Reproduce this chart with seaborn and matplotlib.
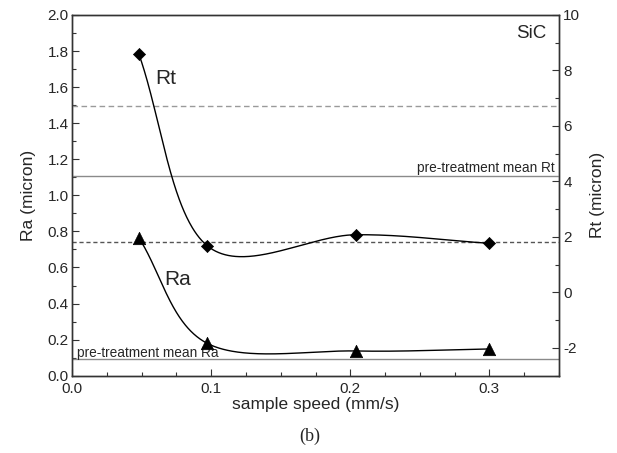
import numpy as np
import pandas as pd
import matplotlib
matplotlib.use("Agg")
import matplotlib.pyplot as plt
from matplotlib.ticker import MultipleLocator, FormatStrFormatter
import seaborn as sns

# ---- data ----
speed = [0.048, 0.097, 0.204, 0.300]          # sample speed (mm/s)
ra_values = [0.765, 0.180, 0.137, 0.148]      # Ra (micron), left axis
rt_values = [8.60, 1.69, 2.08, 1.77]          # Rt (micron), right axis
ra_pre_mean = 0.091                           # pre-treatment mean Ra
ra_ref_dashed = 0.743                         # dashed reference (left axis)
rt_pre_mean = 4.18                            # pre-treatment mean Rt
rt_ref_dashed = 6.72                          # dashed reference (right axis)
x_ticks = [0.0, 0.1, 0.2, 0.3]
ra_ticks = [0.0, 0.2, 0.4, 0.6, 0.8, 1.0, 1.2, 1.4, 1.6, 1.8, 2.0]
rt_ticks = [-2, 0, 2, 4, 6, 8, 10]


def screen_spline(axis, x, y, n=120):
    """Parametric Catmull-Rom curve through the points, computed in the
    axes' display space (like a plotting program's 'spline' connection),
    returned in data coordinates for drawing."""
    P = axis.transData.transform(np.column_stack([x, y]))
    m = len(P)
    T = np.zeros_like(P)
    T[0] = P[1] - P[0]
    T[-1] = P[-1] - P[-2]
    for i in range(1, m - 1):
        T[i] = (P[i + 1] - P[i - 1]) / 2.0
    segs = []
    t = np.linspace(0, 1, n)[:, None]
    h00 = 2 * t ** 3 - 3 * t ** 2 + 1
    h10 = t ** 3 - 2 * t ** 2 + t
    h01 = -2 * t ** 3 + 3 * t ** 2
    h11 = t ** 3 - t ** 2
    for i in range(m - 1):
        seg = h00 * P[i] + h10 * T[i] + h01 * P[i + 1] + h11 * T[i + 1]
        segs.append(seg if i == 0 else seg[1:])
    D = axis.transData.inverted().transform(np.vstack(segs))
    return D[:, 0], D[:, 1]


sns.set_theme(style="ticks")
plt.rcParams["font.family"] = ["Liberation Sans", "DejaVu Sans"]

fig = plt.figure(figsize=(6.17, 4.53), dpi=100)
ax = fig.add_axes([0.1167, 0.1707, 0.7893, 0.7962])
ax2 = ax.twinx()

# axes limits and ticks (set first so the curve can use the scales)
ax.set_xlim(0, 0.35)
ax.set_ylim(0, 2.0)
ax2.set_ylim(-3, 10)
ax.set_xticks(x_ticks)
ax.set_yticks(ra_ticks)
ax2.set_yticks(rt_ticks)
ax.xaxis.set_minor_locator(MultipleLocator(0.025))
ax.yaxis.set_minor_locator(MultipleLocator(0.1))
ax2.yaxis.set_minor_locator(MultipleLocator(1))
ax.xaxis.set_major_formatter(FormatStrFormatter("%.1f"))
ax.yaxis.set_major_formatter(FormatStrFormatter("%.1f"))
ax2.yaxis.set_major_formatter(FormatStrFormatter("%d"))

pts = pd.DataFrame({"speed": speed, "Ra": ra_values, "Rt": rt_values})
rx, ry = screen_spline(ax, speed, ra_values)
tx, ty = screen_spline(ax2, speed, rt_values)
ra_curve = pd.DataFrame({"speed": rx, "Ra": ry})
rt_curve = pd.DataFrame({"speed": tx, "Rt": ty})

# reference lines
ax.axhline(ra_pre_mean, color="#8a8a8a", lw=1.0, zorder=1)
ax.axhline(ra_ref_dashed, color="#555555", lw=1.0, ls=(0, (3, 2)), zorder=1)
ax2.axhline(rt_pre_mean, color="#8a8a8a", lw=1.0, zorder=1)
ax2.axhline(rt_ref_dashed, color="#9a9a9a", lw=1.0, ls=(0, (4, 2.5)), zorder=1)

# Ra curve + markers (left axis)
sns.lineplot(data=ra_curve, x="speed", y="Ra", ax=ax, color="black", lw=1.0,
             sort=False, estimator=None, zorder=3)
sns.scatterplot(data=pts, x="speed", y="Ra", ax=ax, marker="^", s=80,
                color="black", edgecolor="black", linewidth=0.5, zorder=4)

# Rt curve + markers (right axis)
sns.lineplot(data=rt_curve, x="speed", y="Rt", ax=ax2, color="black", lw=1.0,
             sort=False, estimator=None, zorder=3)
sns.scatterplot(data=pts, x="speed", y="Rt", ax=ax2, marker="D", s=38,
                color="black", edgecolor="black", linewidth=0.5, zorder=4)

ax.set_xlim(0, 0.35)
ax.set_ylim(0, 2.0)
ax2.set_ylim(-3, 10)

for a in (ax, ax2):
    a.tick_params(which="major", direction="in", length=5, width=0.8,
                  labelsize=11, pad=2.5, color="#333333")
    a.tick_params(which="minor", direction="in", length=3, width=0.8,
                  color="#333333")
    for sp in a.spines.values():
        sp.set_visible(True)
        sp.set_linewidth(1.0)
        sp.set_color("#333333")
ax.tick_params(axis="x", which="major", pad=4.5)
ax2.tick_params(axis="y", which="both", left=False, right=True)
ax2.tick_params(axis="y", which="major", pad=3)

ax.set_xlabel("sample speed (mm/s)", fontsize=12.5, labelpad=1)
ax.set_ylabel("Ra (micron)", fontsize=12.5, labelpad=8)
ax2.set_ylabel("Rt (micron)", fontsize=12.5, labelpad=7)

# annotations
ax.text(0.0673, 1.65, "Rt", fontsize=15, va="center", ha="center")
ax.text(0.076, 0.536, "Ra", fontsize=15, va="center", ha="center")
ax.text(0.341, 1.90, "SiC", fontsize=13.5, va="center", ha="right")
ax2.text(0.3467, rt_pre_mean + 0.17, "pre-treatment mean Rt", fontsize=9.8,
         va="baseline", ha="right")
ax.text(0.0036, ra_pre_mean + 0.015, "pre-treatment mean Ra", fontsize=9.8,
        va="baseline", ha="left")

fig.text(0.5025, 0.036, "(b)", fontsize=13, ha="center", va="center",
         family=["Liberation Serif", "DejaVu Serif"])

fig.savefig("out.png", dpi=100)
